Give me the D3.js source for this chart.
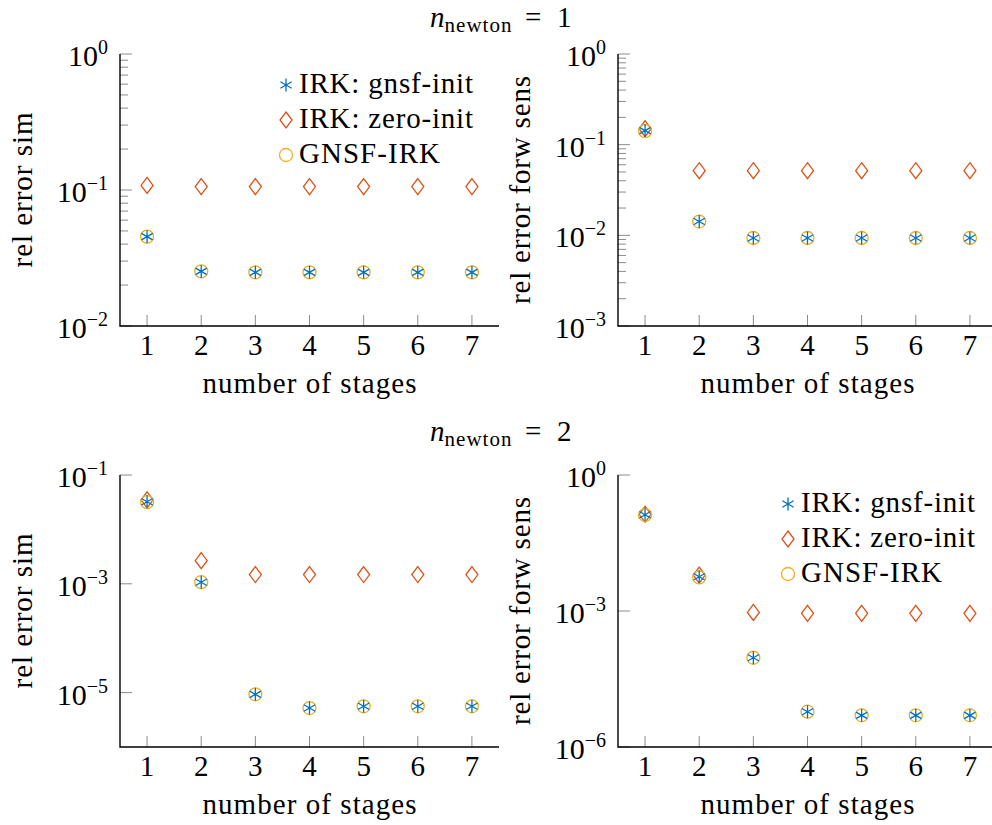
<!DOCTYPE html>
<html>
<head>
<meta charset="utf-8">
<script src="https://cdn.jsdelivr.net/npm/d3@7.9.0/dist/d3.min.js"></script>
<style>
  body { margin: 0; background: #fff; }
</style>
</head>
<body>
<div id="chart"></div>
<script>
// stages on the x axis
const stages = [1, 2, 3, 4, 5, 6, 7];
const seriesNames = ["IRK: gnsf-init", "IRK: zero-init", "GNSF-IRK"];

// n_newton = 1, simulation error
const sim1GnsfInit = [0.0454, 0.0252, 0.0248, 0.0248, 0.0248, 0.0248, 0.0248];
const sim1ZeroInit = [0.108, 0.106, 0.106, 0.106, 0.106, 0.106, 0.106];
const sim1GnsfIrk = [0.0454, 0.0252, 0.0248, 0.0248, 0.0248, 0.0248, 0.0248];
// n_newton = 1, forward sensitivity error
const sens1GnsfInit = [0.143, 0.0142, 0.00935, 0.00935, 0.00935, 0.00935, 0.00935];
const sens1ZeroInit = [0.150, 0.0516, 0.0516, 0.0516, 0.0516, 0.0516, 0.0516];
const sens1GnsfIrk = [0.141, 0.0142, 0.00935, 0.00935, 0.00935, 0.00935, 0.00935];
// n_newton = 2, simulation error
const sim2GnsfInit = [0.0322, 0.00107, 9.3e-6, 5.2e-6, 5.6e-6, 5.6e-6, 5.6e-6];
const sim2ZeroInit = [0.035, 0.00266, 0.00148, 0.00148, 0.00148, 0.00148, 0.00148];
const sim2GnsfIrk = [0.0316, 0.00107, 9.3e-6, 5.2e-6, 5.6e-6, 5.6e-6, 5.6e-6];
// n_newton = 2, forward sensitivity error
const sens2GnsfInit = [0.133, 0.0057, 9.3e-5, 6.0e-6, 5.0e-6, 5.0e-6, 5.0e-6];
const sens2ZeroInit = [0.136, 0.0062, 9.3e-4, 8.9e-4, 8.9e-4, 8.9e-4, 8.9e-4];
const sens2GnsfIrk = [0.131, 0.0055, 9.3e-5, 6.0e-6, 5.0e-6, 5.0e-6, 5.0e-6];

const colors = ["#0072BD", "#D95319", "#EDB120"];
// widths of the TeX-set labels, so the serif text spreads like the original
const labelWidth = {
  "number of stages": 214, "rel error sim": 155, "rel error forw sens": 228,
  "IRK: gnsf-init": 174, "IRK: zero-init": 174, "GNSF-IRK": 141
};

const svg = d3.select("#chart").append("svg")
  .attr("width", 992)
  .attr("height", 825)
  .attr("font-family", "'Liberation Serif', 'Times New Roman', 'DejaVu Serif', serif");

// marker path strings, centred on 0,0
function markerPath(kind) {
  if (kind === 0) {
    const r = 6.5, c = r * Math.cos(Math.PI / 6), s = r * Math.sin(Math.PI / 6);
    return `M0,${-r}L0,${r}M${-c},${-s}L${c},${s}M${-c},${s}L${c},${-s}`;
  }
  if (kind === 1) {
    return "M0,-8L6,0L0,8L-6,0Z";
  }
  return d3.arc()({ innerRadius: 0, outerRadius: 6.5, startAngle: 0, endAngle: 2 * Math.PI });
}

function supTick(sel, exp) {
  sel.append("tspan").text("10");
  sel.append("tspan")
    .attr("dy", -12)
    .attr("font-size", 20)
    .text(exp < 0 ? "\u2212" + (-exp) : exp);
}

function drawPanel(opt) {
  const x = d3.scaleLinear().domain([0.5, 7.5]).range([opt.left, opt.left + 379]);
  const y = d3.scaleLog().domain(opt.yDomain).range([opt.bottom, opt.bottom - 272]);
  const g = svg.append("g");

  // minor ticks
  if (opt.minor) {
    const minors = [];
    for (let e = Math.log10(opt.yDomain[0]); e < Math.log10(opt.yDomain[1]); e++) {
      for (let m = 2; m <= 9; m++) minors.push(m * Math.pow(10, e));
    }
    g.selectAll(".minor").data(minors).enter().append("line")
      .attr("x1", opt.left).attr("x2", opt.left + 8)
      .attr("y1", d => y(d)).attr("y2", d => y(d))
      .attr("stroke", "#8c8c8c").attr("stroke-width", 1);
  }
  // major y ticks
  g.selectAll(".major").data(opt.yTicks).enter().append("line")
    .attr("x1", opt.left).attr("x2", opt.left + 12)
    .attr("y1", d => y(d)).attr("y2", d => y(d))
    .attr("stroke", "#8c8c8c").attr("stroke-width", 1);
  g.selectAll(".ylab").data(opt.yTicks).enter().append("text")
    .attr("x", opt.left - 12)
    .attr("y", d => y(d) + 12)
    .attr("text-anchor", "end")
    .attr("font-size", 30)
    .each(function (d) { supTick(d3.select(this), Math.round(Math.log10(d))); });

  // x ticks
  g.selectAll(".xt").data(stages).enter().append("line")
    .attr("x1", d => x(d)).attr("x2", d => x(d))
    .attr("y1", opt.bottom).attr("y2", opt.bottom - 11)
    .attr("stroke", "#8c8c8c").attr("stroke-width", 1);
  g.selectAll(".xlab").data(stages).enter().append("text")
    .attr("x", d => x(d))
    .attr("y", opt.bottom + 29)
    .attr("text-anchor", "middle")
    .attr("font-size", 29)
    .text(d => d);

  // axis lines
  g.append("path")
    .attr("d", `M${opt.left},${opt.bottom - 272}V${opt.bottom}H${opt.left + 379}`)
    .attr("fill", "none").attr("stroke", "#000").attr("stroke-width", 1.4);

  // axis labels
  g.append("text")
    .attr("x", opt.left + 189.5)
    .attr("y", opt.bottom + 67)
    .attr("text-anchor", "middle")
    .attr("font-size", 29)
    .attr("textLength", labelWidth["number of stages"])
    .attr("lengthAdjust", "spacing")
    .text("number of stages");
  g.append("text")
    .attr("transform", `translate(${opt.yLabelX},${opt.bottom - 136}) rotate(-90)`)
    .attr("text-anchor", "middle")
    .attr("font-size", 29)
    .attr("textLength", labelWidth[opt.yLabel])
    .attr("lengthAdjust", "spacing")
    .text(opt.yLabel);

  // markers: diamonds, circles, then stars on top
  [1, 2, 0].forEach(k => {
    g.selectAll(".m" + k).data(opt.series[k]).enter().append("path")
      .attr("d", markerPath(k))
      .attr("transform", (d, i) => `translate(${x(stages[i])},${y(d)})`)
      .attr("fill", "none")
      .attr("stroke", colors[k])
      .attr("stroke-width", 1.3);
  });

  // legend
  if (opt.legend) {
    seriesNames.forEach((name, k) => {
      const ly = opt.legend[1] + k * 35;
      g.append("path")
        .attr("d", markerPath(k))
        .attr("transform", `translate(${opt.legend[0]},${ly - 8})`)
        .attr("fill", "none")
        .attr("stroke", colors[k])
        .attr("stroke-width", 1.3);
      g.append("text")
        .attr("x", opt.legend[0] + 13)
        .attr("y", ly)
        .attr("font-size", 29)
        .attr("textLength", labelWidth[name])
        .attr("lengthAdjust", "spacing")
        .text(name);
    });
  }
}

function drawTitle(cy, num) {
  const t = svg.append("text")
    .attr("x", 430).attr("y", cy)
    .attr("font-size", 29);
  t.append("tspan").attr("font-style", "italic").text("n");
  t.append("tspan").attr("font-size", 21).attr("dy", 5)
    .attr("textLength", 67).attr("lengthAdjust", "spacing").text("newton");
  t.append("tspan").attr("x", 525).attr("dy", -5).text("=");
  t.append("tspan").attr("x", 557).text(num);
}

drawTitle(27, 1);
drawTitle(441, 2);

drawPanel({
  left: 120, bottom: 326, yDomain: [1e-2, 1], yTicks: [1e-2, 1e-1, 1], minor: true,
  yLabel: "rel error sim", yLabelX: 32,
  series: [sim1GnsfInit, sim1ZeroInit, sim1GnsfIrk], legend: [286, 93]
});
drawPanel({
  left: 618, bottom: 326, yDomain: [1e-3, 1], yTicks: [1e-3, 1e-2, 1e-1, 1], minor: true,
  yLabel: "rel error forw sens", yLabelX: 530,
  series: [sens1GnsfInit, sens1ZeroInit, sens1GnsfIrk]
});
drawPanel({
  left: 120, bottom: 747, yDomain: [1e-6, 1e-1], yTicks: [1e-5, 1e-3, 1e-1], minor: false,
  yLabel: "rel error sim", yLabelX: 32,
  series: [sim2GnsfInit, sim2ZeroInit, sim2GnsfIrk]
});
drawPanel({
  left: 618, bottom: 747, yDomain: [1e-6, 1], yTicks: [1e-6, 1e-3, 1], minor: false,
  yLabel: "rel error forw sens", yLabelX: 530,
  series: [sens2GnsfInit, sens2ZeroInit, sens2GnsfIrk], legend: [788, 512]
});
</script>
</body>
</html>
